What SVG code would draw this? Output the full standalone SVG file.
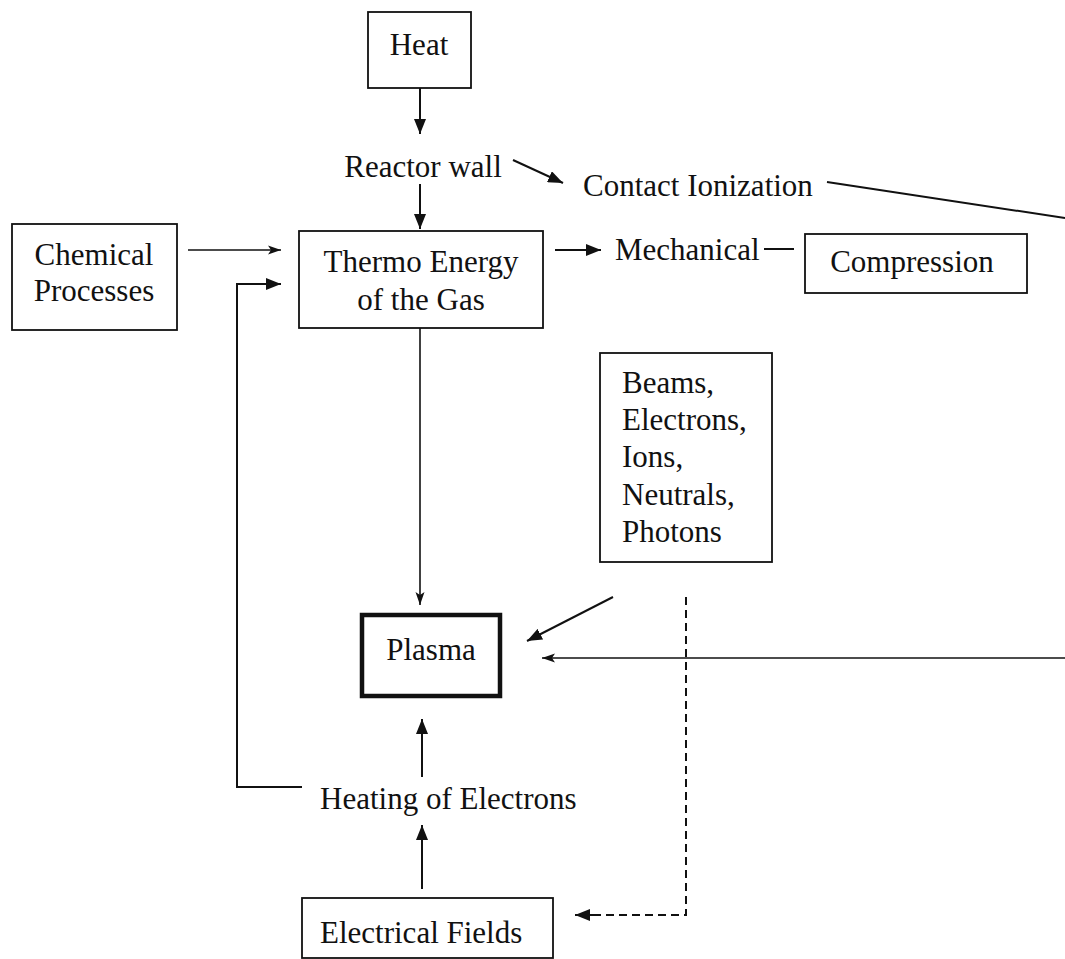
<svg xmlns="http://www.w3.org/2000/svg" width="1065" height="959" viewBox="0 0 1065 959">
<style>
text{font-family:"Liberation Serif","Times New Roman",serif;font-size:31px;fill:#111}
.box{fill:#fff;stroke:#111;stroke-width:1.8}
.thick{fill:#fff;stroke:#111;stroke-width:4.5}
.ln{fill:none;stroke:#111;stroke-width:2}
.arr{fill:none;stroke:#111;stroke-width:2;marker-end:url(#ah)}
.arrt{fill:none;stroke:#111;stroke-width:1.6;marker-end:url(#aht)}
.dash{fill:none;stroke:#111;stroke-width:2;stroke-dasharray:8 5}
.c{text-anchor:middle}
</style>
<defs>
<marker id="ah" markerUnits="userSpaceOnUse" markerWidth="16" markerHeight="12" refX="15" refY="6" orient="auto">
<path d="M0,0 L15,6 L0,12 z" fill="#111"/>
</marker>
<marker id="aht" markerUnits="userSpaceOnUse" markerWidth="14" markerHeight="10" refX="13" refY="5" orient="auto">
<path d="M0,0.5 L13,5 L0,9.5 L3,5 z" fill="#111"/>
</marker>
</defs>
<rect width="1065" height="959" fill="#fff"/>
<g id="connectors">
<line class="arr" x1="420" y1="88" x2="420" y2="134"/>
<line class="arr" x1="420" y1="184" x2="420" y2="229"/>
<line class="arr" x1="513" y1="160" x2="563" y2="183"/>
<line class="arrt" x1="188" y1="250" x2="281" y2="250"/>
<polyline class="arr" points="302,787 237,787 237,284 281,284"/>
<line class="arr" x1="555" y1="250" x2="601" y2="250"/>
<line class="ln" x1="764" y1="249" x2="794" y2="249"/>
<line class="ln" x1="827" y1="182" x2="1065" y2="218"/>
<line class="arrt" x1="420" y1="328" x2="420" y2="605"/>
<line class="arr" x1="613" y1="597" x2="527" y2="641"/>
<line class="arrt" x1="1065" y1="658" x2="542" y2="658"/>
<line class="arr" x1="422" y1="777" x2="422" y2="719"/>
<line class="arr" x1="422" y1="889" x2="422" y2="825"/>
<polyline class="dash" points="686,597 686,915 592,915"/>
<line class="arr" x1="595" y1="915" x2="575" y2="915"/>
</g>
<g id="heat">
<rect class="box" x="368" y="12" width="103" height="76"/>
<text class="c" x="419" y="55">Heat</text>
</g>
<g id="reactor-wall">
<text class="c" x="423" y="177">Reactor wall</text>
</g>
<g id="contact-ionization">
<text x="583" y="196">Contact Ionization</text>
</g>
<g id="chemical-processes">
<rect class="box" x="12" y="224" width="165" height="106"/>
<text class="c" x="94" y="265">Chemical</text>
<text class="c" x="94" y="301">Processes</text>
</g>
<g id="thermo-energy">
<rect class="box" x="299" y="231" width="244" height="97"/>
<text class="c" x="421" y="272">Thermo Energy</text>
<text class="c" x="421" y="310">of the Gas</text>
</g>
<g id="mechanical">
<text x="615" y="260">Mechanical</text>
</g>
<g id="compression">
<rect class="box" x="805" y="234" width="222" height="59"/>
<text class="c" x="912" y="272">Compression</text>
</g>
<g id="beams">
<rect class="box" x="600" y="353" width="172" height="209"/>
<text x="622" y="393">Beams,</text>
<text x="622" y="430">Electrons,</text>
<text x="622" y="467">Ions,</text>
<text x="622" y="505">Neutrals,</text>
<text x="622" y="542">Photons</text>
</g>
<g id="plasma">
<rect class="thick" x="362" y="615" width="138" height="81"/>
<text class="c" x="431" y="660">Plasma</text>
</g>
<g id="heating-of-electrons">
<text x="320" y="809">Heating of Electrons</text>
</g>
<g id="electrical-fields">
<rect class="box" x="302" y="898" width="251" height="60"/>
<text x="320" y="943">Electrical Fields</text>
</g>
</svg>
